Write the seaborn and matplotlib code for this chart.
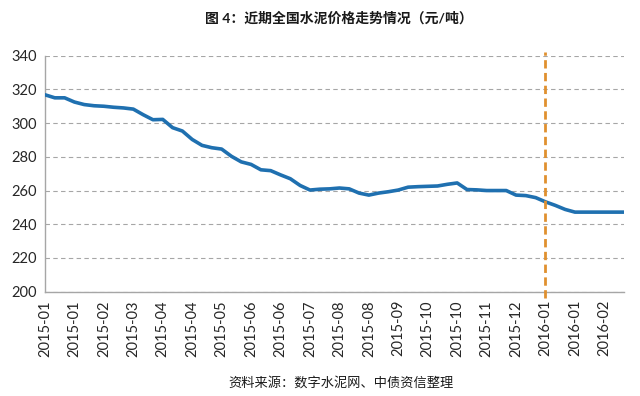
import matplotlib
matplotlib.use("Agg")
import matplotlib.pyplot as plt
import seaborn as sns
import pandas as pd

title = "图 4：近期全国水泥价格走势情况（元/吨）"
source = "资料来源：数字水泥网、中债资信整理"

tick_labels = ["2015-01", "2015-01", "2015-02", "2015-03", "2015-04", "2015-04",
               "2015-05", "2015-06", "2015-06", "2015-07", "2015-08", "2015-08",
               "2015-09", "2015-10", "2015-10", "2015-11", "2015-12", "2016-01",
               "2016-01", "2016-02"]

# weekly national cement price (yuan/ton)
prices = [316.8, 315.0, 315.0, 312.5, 311.0, 310.3, 310.0, 309.4, 309.0, 308.3,
          305.0, 302.0, 302.2, 297.3, 295.3, 290.3, 286.8, 285.4, 284.6, 280.3,
          277.0, 275.5, 272.3, 271.8, 269.3, 267.0, 263.0, 260.3, 260.8, 261.0,
          261.5, 261.0, 258.5, 257.3, 258.5, 259.3, 260.3, 262.0, 262.3, 262.5,
          262.7, 263.7, 264.5, 260.6, 260.4, 260.0, 260.0, 260.0, 257.3, 257.0,
          255.8, 253.3, 251.2, 248.8, 247.2, 247.2, 247.2, 247.2, 247.2, 247.2]

marker_week = 51  # first week of 2016-01
tick_step = 3

sns.set_style("white")
plt.rcParams['font.family'] = ['Lato', 'Noto Sans CJK SC', 'DejaVu Sans']

fig = plt.figure(figsize=(6.4, 3.96), dpi=100)
ax = fig.add_axes([0.0703, 0.2634, 0.9047, 0.596])

df = pd.DataFrame({"week": range(len(prices)), "price": prices})
sns.lineplot(data=df, x="week", y="price", ax=ax, color="#1F70B0",
             linewidth=2.6, zorder=3)

ax.set_xlim(0, len(prices) - 1)
ax.set_ylim(200, 340)
ax.set_yticks(range(200, 341, 20))
ax.set_xticks(range(0, len(prices), tick_step))
ax.set_xticklabels(tick_labels, rotation=90)
ax.set_xlabel("")
ax.set_ylabel("")

ax.yaxis.grid(True, linestyle=(0, (4, 3)), color="#A6A6A6", linewidth=0.8)
ax.xaxis.grid(False)
ax.set_axisbelow(True)

ax.axvline(marker_week, ymin=-0.027, ymax=1.016, clip_on=False,
           color="#E0902F", linestyle=(0, (3, 1.6)), linewidth=2.0, zorder=4)

for s in ["top", "right"]:
    ax.spines[s].set_visible(False)
for s in ["left", "bottom"]:
    ax.spines[s].set_color("#A6A6A6")
    ax.spines[s].set_linewidth(1.0)

ax.tick_params(axis="both", direction="out", length=4, width=0.8,
               color="#A6A6A6", labelsize=10.5, labelcolor="#262626", pad=2)

fig.text(0.53, 0.955, title, ha="center", va="center", fontsize=10,
         fontweight="bold", color="#1a1a1a")
fig.text(0.533, 0.035, source, ha="center", va="center", fontsize=9.5,
         color="#1a1a1a")

fig.savefig("out.png", dpi=100)
